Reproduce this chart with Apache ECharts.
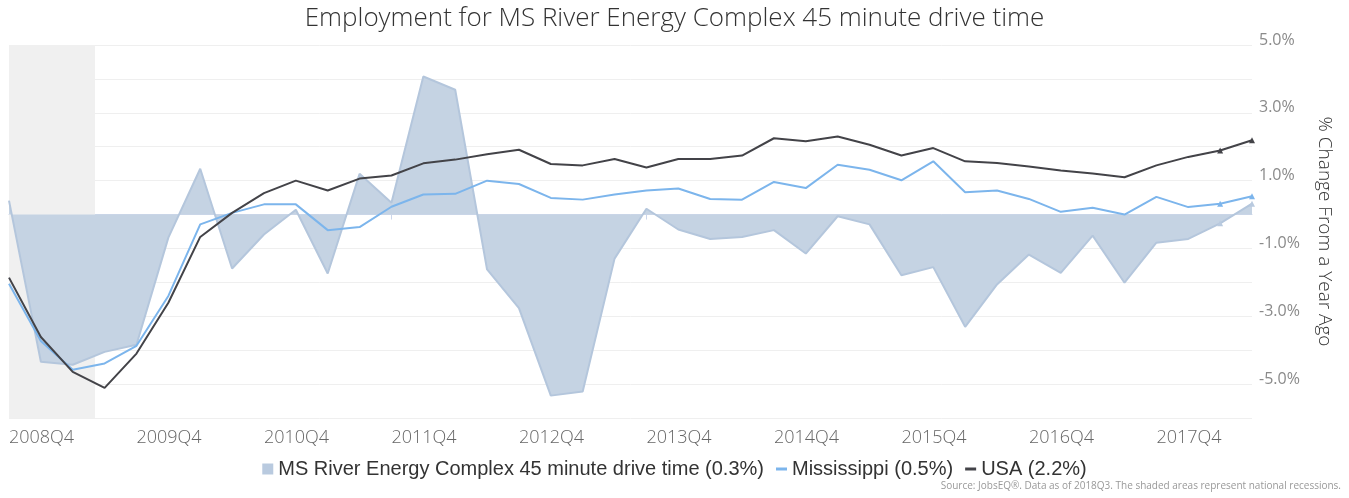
<!DOCTYPE html>
<html>
<head>
<meta charset="utf-8">
<script src="https://cdn.jsdelivr.net/npm/echarts@6/dist/echarts.min.js"></script>
<style>
  html, body { margin: 0; padding: 0; background: #fff; }
</style>
</head>
<body>
<div id="employmentChart" style="width:1349px;height:498px;"></div>
<script>
// quarters 2008Q4 .. 2018Q3
var quarters = [];
for (var y = 2008; y <= 2018; y++) {
  for (var q = 1; q <= 4; q++) {
    if ((y === 2008 && q < 4) || (y === 2018 && q > 3)) continue;
    quarters.push(y + 'Q' + q);
  }
}

// % change from a year ago
var msRiver = [0.41, -4.34, -4.43, -4.05, -3.84, -0.68, 1.35, -1.59, -0.59, 0.14,
  -1.74, 1.2, 0.35, 4.07, 3.68, -1.62, -2.76, -5.34, -5.22, -1.3,
  0.17, -0.44, -0.72, -0.66, -0.46, -1.15, -0.05, -0.29, -1.79, -1.55,
  -3.31, -2.06, -1.18, -1.72, -0.62, -2.01, -0.83, -0.72, -0.26, 0.32];
var mississippi = [-2.04, -3.73, -4.58, -4.39, -3.87, -2.4, -0.29, 0.05, 0.3, 0.3,
  -0.46, -0.37, 0.23, 0.59, 0.61, 1.0, 0.9, 0.49, 0.44, 0.59,
  0.71, 0.77, 0.46, 0.44, 0.96, 0.78, 1.47, 1.32, 1.01, 1.57,
  0.66, 0.71, 0.46, 0.08, 0.2, 0.0, 0.52, 0.22, 0.32, 0.54];
var usa = [-1.86, -3.61, -4.64, -5.11, -4.1, -2.6, -0.66, 0.05, 0.63, 1.0,
  0.71, 1.06, 1.15, 1.51, 1.62, 1.78, 1.91, 1.49, 1.45, 1.64,
  1.39, 1.64, 1.64, 1.74, 2.25, 2.16, 2.3, 2.06, 1.74, 1.96,
  1.57, 1.52, 1.42, 1.3, 1.21, 1.1, 1.45, 1.7, 1.89, 2.19];

// recession shading, in quarter positions from 2008Q4
var recessionBands = [[0, 2.7]];

var seriesNames = ['MS River Energy Complex 45 minute drive time', 'Mississippi', 'USA'];
var latest = {};
latest[seriesNames[0]] = msRiver[msRiver.length - 1];
latest[seriesNames[1]] = mississippi[mississippi.length - 1];
latest[seriesNames[2]] = usa[usa.length - 1];

var font = "'Open Sans', sans-serif";

// marker on the last two (preliminary) quarters
function lastMarks(value, params) {
  return params.dataIndex >= quarters.length - 2 ? 'triangle' : 'none';
}

var myChart = echarts.init(document.getElementById('employmentChart'));
var option = {
  animation: false,
  title: [
    {
      text: 'Employment for MS River Energy Complex 45 minute drive time',
      left: 'center',
      top: 1,
      textStyle: { fontFamily: font, fontWeight: 300, fontSize: 26, color: '#333' }
    },
    {
      text: 'Source: JobsEQ®. Data as of 2018Q3. The shaded areas represent national recessions.',
      right: 3,
      bottom: 2,
      textStyle: { fontFamily: font, fontWeight: 400, fontSize: 10, color: '#999' }
    }
  ],
  legend: {
    bottom: 14,
    left: 'center',
    itemGap: 12,
    itemWidth: 11,
    itemHeight: 11,
    textStyle: { fontFamily: "'Liberation Sans', Arial, sans-serif", fontSize: 20, color: '#333' },
    formatter: function (name) {
      return name + ' (' + latest[name].toFixed(1) + '%)';
    },
    data: [
      { name: seriesNames[0], icon: 'rect' },
      { name: seriesNames[1], icon: 'path://M0,0H11V3H0Z' },
      { name: seriesNames[2], icon: 'path://M0,0H11V3H0Z' }
    ]
  },
  grid: { left: 9, right: 97, top: 45, bottom: 80 },
  xAxis: [
    {
      type: 'category',
      data: quarters,
      boundaryGap: false,
      axisLine: { lineStyle: { color: '#ccd6eb', width: 1 } },
      axisTick: { interval: 3, length: 5, lineStyle: { color: '#ccd6eb' } },
      axisLabel: {
        interval: 3,
        align: 'left',
        margin: 11,
        fontFamily: font,
        fontWeight: 300,
        fontSize: 18,
        color: '#666'
      },
      splitLine: { show: false }
    },
    {
      // hidden positional axis used for the recession shading
      type: 'value',
      min: 0,
      max: quarters.length - 1,
      show: false
    }
  ],
  yAxis: {
    type: 'value',
    position: 'right',
    min: -6,
    max: 5,
    interval: 1,
    name: '% Change From a Year Ago',
    nameLocation: 'middle',
    nameRotate: -90,
    nameGap: 63,
    nameTextStyle: { fontFamily: font, fontWeight: 300, fontSize: 19, color: '#333' },
    axisLine: { show: false },
    axisTick: { show: false },
    axisLabel: {
      margin: 7,
      fontFamily: font,
      fontWeight: 400,
      fontSize: 16,
      color: '#8a8a8a',
      verticalAlign: 'bottom',
      lineHeight: 10,
      formatter: function (v) {
        return Math.abs(v) % 2 === 1 ? v.toFixed(1) + '%' : '';
      }
    },
    splitLine: { lineStyle: { color: '#efefef', width: 1 } }
  },
  series: [
    {
      name: 'recessions',
      type: 'line',
      xAxisIndex: 1,
      data: [],
      silent: true,
      markArea: {
        silent: true,
        itemStyle: { color: '#f0f0f0' },
        data: recessionBands.map(function (b) {
          return [{ xAxis: b[0] }, { xAxis: b[1] }];
        })
      }
    },
    {
      name: seriesNames[0],
      type: 'line',
      data: msRiver,
      symbol: lastMarks,
      symbolSize: 6,
      itemStyle: { color: '#b9cadf' },
      lineStyle: { color: '#b4c6dc', width: 2 },
      areaStyle: { color: '#c5d3e3', opacity: 1 }
    },
    {
      name: seriesNames[1],
      type: 'line',
      data: mississippi,
      symbol: lastMarks,
      symbolSize: 6,
      itemStyle: { color: '#7cb5ec' },
      lineStyle: { color: '#7cb5ec', width: 2 }
    },
    {
      name: seriesNames[2],
      type: 'line',
      data: usa,
      symbol: lastMarks,
      symbolSize: 6,
      itemStyle: { color: '#434348' },
      lineStyle: { color: '#434348', width: 2 }
    }
  ]
};

window.onresize = myChart.resize;
myChart.setOption(option);
</script>
</body>
</html>
